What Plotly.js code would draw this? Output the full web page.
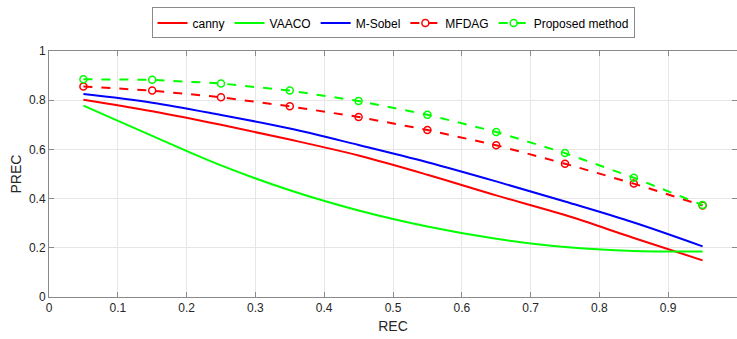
<!DOCTYPE html>
<html><head><meta charset="utf-8">
<script src="https://cdn.plot.ly/plotly-3.0.1.min.js"></script>
<style>html,body{margin:0;padding:0;background:#fff;}#c{width:737px;height:339px;}</style>
</head><body><div id="c"></div>
<script>
const rec = [0.05,0.15,0.25,0.35,0.45,0.55,0.65,0.75,0.85,0.95];
const canny = [0.802,0.755,0.700,0.640,0.575,0.497,0.413,0.333,0.240,0.149];
const vaaco = [0.778,0.655,0.535,0.434,0.352,0.287,0.237,0.203,0.187,0.185];
const msobel = [0.825,0.790,0.740,0.685,0.618,0.548,0.470,0.388,0.303,0.206];
const mfdag = [0.856,0.839,0.812,0.775,0.732,0.679,0.617,0.542,0.461,0.372];
const proposed = [0.885,0.883,0.868,0.839,0.797,0.741,0.671,0.585,0.485,0.374];
const names = ['canny','VAACO','M-Sobel','MFDAG','Proposed method'];
const xTicks = [0,0.1,0.2,0.3,0.4,0.5,0.6,0.7,0.8,0.9];
const yTicks = [0,0.2,0.4,0.6,0.8,1];

const traces = [
  {x:rec,y:canny,name:names[0],mode:'lines',line:{color:'#ff0000',width:2,shape:'spline'}},
  {x:rec,y:vaaco,name:names[1],mode:'lines',line:{color:'#00ff00',width:2,shape:'spline'}},
  {x:rec,y:msobel,name:names[2],mode:'lines',line:{color:'#0000ff',width:2,shape:'spline'}},
  {x:rec,y:mfdag,name:names[3],mode:'lines+markers',line:{color:'#ff0000',width:2,dash:'dash'},marker:{symbol:'circle-open',size:7,color:'#ff0000',line:{width:1.5,color:'#ff0000'}}},
  {x:rec,y:proposed,name:names[4],mode:'lines+markers',line:{color:'#00ff00',width:2,dash:'dash'},marker:{symbol:'circle-open',size:7,color:'#00ff00',line:{width:1.5,color:'#00ff00'}}}
];
const axisCommon = {
  showline:true, linecolor:'#8a8a8a', linewidth:1, mirror:'ticks',
  ticks:'inside', ticklen:5, tickcolor:'#8a8a8a',
  showgrid:true, gridcolor:'#e6e6e6', gridwidth:1, zeroline:false,
  tickfont:{family:'Liberation Sans, Arial, sans-serif',size:12,color:'#262626'}
};
const layout = {
  width:737, height:339,
  margin:{l:49,r:0,t:51,b:42},
  paper_bgcolor:'#fff', plot_bgcolor:'#fff',
  showlegend:true,
  legend:{orientation:'h',x:0.5,xanchor:'center',xref:'paper',y:0.978,yanchor:'top',yref:'container',
    bordercolor:'#8a8a8a',borderwidth:1,bgcolor:'#fff',
    font:{family:'Liberation Sans, Arial, sans-serif',size:12,color:'#000'},
    tracegroupgap:0},
  xaxis:Object.assign({},axisCommon,{range:[0,1],tickvals:xTicks,ticktext:xTicks.map(String),
    title:{text:'REC',font:{family:'Liberation Sans, Arial, sans-serif',size:14,color:'#262626'},standoff:6}}),
  yaxis:Object.assign({},axisCommon,{range:[0,1],tickvals:yTicks,ticktext:yTicks.map(String),
    title:{text:'PREC',font:{family:'Liberation Sans, Arial, sans-serif',size:14,color:'#262626'},standoff:4}})
};
Plotly.newPlot('c',traces,layout,{staticPlot:true,displayModeBar:false});
</script></body></html>
